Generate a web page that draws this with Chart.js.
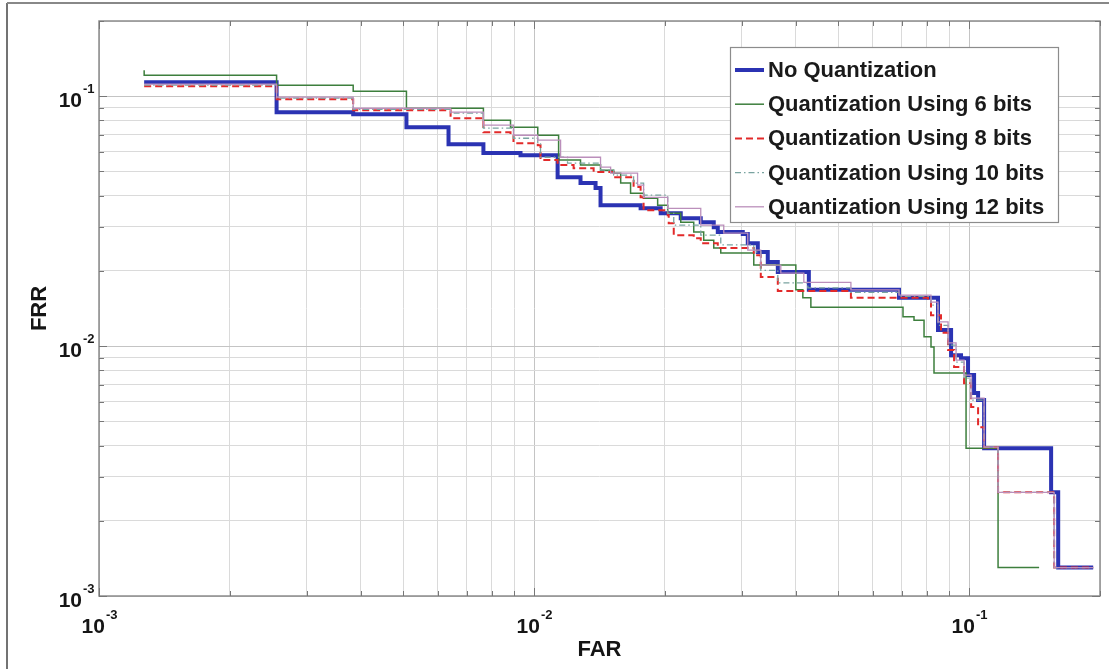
<!DOCTYPE html>
<html lang="en">
<head>
<meta charset="UTF-8">
<title>FAR / FRR</title>
<script src="https://cdn.jsdelivr.net/npm/chart.js"></script>
<style>
  html, body { margin: 0; padding: 0; background: #fff; }
  canvas { display: block; }
</style>
</head>
<body>
<canvas id="rocChart" width="1109" height="669"></canvas>
<script>
// step corners: FAR (x) and FRR (y)
const farNoQ = [0.00127, 0.00256, 0.00384, 0.00509, 0.00636, 0.00765, 0.00931, 0.01133, 0.01279, 0.01385, 0.01422, 0.01758, 0.01955, 0.02174, 0.02417, 0.02589, 0.02645, 0.03019, 0.0310, 0.03269, 0.03446, 0.03634, 0.04283, 0.06902, 0.08485, 0.09093, 0.09585, 0.09947, 0.1027, 0.1049, 0.1083, 0.1544, 0.1603, 0.1929];
const frrNoQ = [0.1138, 0.0863, 0.0847, 0.0752, 0.0643, 0.0592, 0.0581, 0.0474, 0.0449, 0.0429, 0.0366, 0.0356, 0.0340, 0.0325, 0.0313, 0.0299, 0.0286, 0.0281, 0.0258, 0.0238, 0.0217, 0.0198, 0.0168, 0.0156, 0.0116, 0.0092, 0.00895, 0.00766, 0.00649, 0.00608, 0.0039, 0.0026, 0.0013, 0.0013];

const far6 = [0.00127, 0.00127, 0.00256, 0.00384, 0.00509, 0.00765, 0.00883, 0.0102, 0.01139, 0.01279, 0.01422, 0.01524, 0.01582, 0.01667, 0.01786, 0.01924, 0.02029, 0.02174, 0.02329, 0.02455, 0.02589, 0.02687, 0.0320, 0.03998, 0.04149, 0.04329, 0.0705, 0.07473, 0.0788, 0.08176, 0.08307, 0.09843, 0.1166, 0.1449];
const frr6 = [0.127, 0.1213, 0.1107, 0.1047, 0.0895, 0.0802, 0.0752, 0.0698, 0.0555, 0.0530, 0.0506, 0.0492, 0.0449, 0.0409, 0.0391, 0.0366, 0.0340, 0.0313, 0.0286, 0.0265, 0.0247, 0.0236, 0.0211, 0.0168, 0.0156, 0.0143, 0.0131, 0.0127, 0.0109, 0.00991, 0.0078, 0.0039, 0.0013, 0.0013];

const far8 = [0.00127, 0.00256, 0.00384, 0.00643, 0.00765, 0.00883, 0.00897, 0.0102, 0.01035, 0.01133, 0.01233, 0.01371, 0.01524, 0.01694, 0.01758, 0.01786, 0.02029, 0.0204, 0.02095, 0.02329, 0.02417, 0.02645, 0.0320, 0.03321, 0.03634, 0.05351, 0.08047, 0.08176, 0.08621, 0.08949, 0.09238, 0.09739, 0.1011, 0.1049, 0.1083, 0.1166, 0.1569, 0.1929];
const frr8 = [0.1096, 0.0973, 0.0879, 0.0817, 0.0718, 0.0698, 0.0649, 0.0637, 0.0555, 0.0530, 0.0515, 0.0497, 0.0474, 0.0433, 0.0394, 0.0350, 0.0334, 0.0310, 0.0278, 0.0270, 0.0258, 0.0247, 0.0231, 0.0189, 0.0166, 0.0156, 0.0153, 0.0133, 0.0113, 0.00964, 0.00824, 0.00711, 0.0057, 0.00474, 0.00394, 0.0026, 0.0013, 0.0013];

const far10 = [0.00127, 0.00256, 0.00384, 0.00643, 0.00765, 0.00897, 0.0102, 0.01035, 0.01194, 0.01422, 0.01524, 0.01694, 0.01786, 0.02029, 0.02095, 0.02417, 0.02687, 0.0320, 0.03321, 0.03634, 0.0426, 0.05351, 0.06902, 0.08176, 0.08485, 0.08949, 0.09336, 0.09739, 0.1011, 0.1083, 0.1166, 0.1569, 0.1929];
const frr10 = [0.1107, 0.0982, 0.0887, 0.0855, 0.0745, 0.0679, 0.0649, 0.0570, 0.0540, 0.0506, 0.0483, 0.0449, 0.0402, 0.0340, 0.0305, 0.0278, 0.0254, 0.0238, 0.0201, 0.0179, 0.0171, 0.0164, 0.0158, 0.0146, 0.0121, 0.0101, 0.00863, 0.00745, 0.00608, 0.00394, 0.0026, 0.0013, 0.0013];

const far12 = [0.00127, 0.00256, 0.00384, 0.00643, 0.00765, 0.00897, 0.0102, 0.01151, 0.01422, 0.0150, 0.0173, 0.01786, 0.02029, 0.02417, 0.0273, 0.0310, 0.03321, 0.03692, 0.04171, 0.05351, 0.06902, 0.08176, 0.08485, 0.08949, 0.09336, 0.09739, 0.1011, 0.1083, 0.1166, 0.1569, 0.1929];
const frr12 = [0.1117, 0.0991, 0.0895, 0.0863, 0.0766, 0.0698, 0.0667, 0.0570, 0.0520, 0.0492, 0.0441, 0.0394, 0.0356, 0.0305, 0.0283, 0.0242, 0.0211, 0.0196, 0.0180, 0.0168, 0.0160, 0.0150, 0.0125, 0.0103, 0.00879, 0.00766, 0.00619, 0.00394, 0.0026, 0.0013, 0.0013];

const seriesNames = ['No Quantization', 'Quantization Using 6 bits', 'Quantization Using 8 bits', 'Quantization Using 10 bits', 'Quantization Using 12 bits'];
const decades = [1e-3, 1e-2, 1e-1];
const decadeExp = ['-3', '-2', '-1'];
const axisMin = 1e-3, axisMax = 0.2;

const FONT = "'Liberation Sans', Arial, Helvetica, sans-serif";

// 1..9 x each decade, up to the axis max
const gridValues = [];
decades.forEach(d => {
    for (let m = 1; m <= 9; m++) {
        const v = +(m * d).toPrecision(6);
        if (v <= axisMax + 1e-9) gridValues.push(v);
    }
});

function isDecade(v) {
    return decades.some(d => Math.abs(v / d - 1) < 1e-6);
}

function pairs(xs, ys) {
    return xs.map((x, i) => ({ x: x, y: ys[i] }));
}

const styles = [
    { color: '#2b33b3', width: 4, dash: [] },
    { color: '#3d7f3d', width: 1.5, dash: [] },
    { color: '#e22a2a', width: 2, dash: [7, 4] },
    { color: '#79a3a0', width: 1.3, dash: [6, 3, 1.5, 3] },
    { color: '#bb8fbb', width: 1.3, dash: [] }
];
const allData = [pairs(farNoQ, frrNoQ), pairs(far6, frr6), pairs(far8, frr8), pairs(far10, frr10), pairs(far12, frr12)];

const datasets = allData.map((d, i) => ({
    label: seriesNames[i],
    data: d,
    borderColor: styles[i].color,
    borderWidth: styles[i].width,
    borderDash: styles[i].dash,
    stepped: 'before',
    pointRadius: 0,
    fill: false,
    tension: 0,
    order: 5 - i // first series ends up underneath, like MATLAB's plot order
}));

function drawPower(ctx, exp, x, yBase, align) {
    ctx.font = 'bold 21px ' + FONT;
    const wBase = ctx.measureText('10').width;
    ctx.font = 'bold 13px ' + FONT;
    const wExp = ctx.measureText(exp).width;
    let x0;
    if (align === 'right') x0 = x - wBase;
    else x0 = x - (wBase + wExp) / 2;
    ctx.textAlign = 'left';
    ctx.textBaseline = 'alphabetic';
    ctx.font = 'bold 21px ' + FONT;
    ctx.fillText('10', x0, yBase);
    ctx.font = 'bold 13px ' + FONT;
    ctx.fillText(exp, x0 + wBase + 1, yBase - 14);
}

const axesDecor = {
    id: 'axesDecor',
    beforeDraw(chart) {
        const ctx = chart.ctx;
        ctx.save();
        ctx.fillStyle = '#fff';
        ctx.fillRect(0, 0, chart.width, chart.height);
        ctx.strokeStyle = '#444';
        ctx.lineWidth = 1.5;
        ctx.beginPath();
        ctx.moveTo(7, chart.height);
        ctx.lineTo(7, 3);
        ctx.stroke();
        ctx.strokeStyle = '#888';
        ctx.lineWidth = 2;
        ctx.beginPath();
        ctx.moveTo(7, 3);
        ctx.lineTo(chart.width, 3);
        ctx.stroke();
        ctx.restore();
    },
    afterDatasetsDraw(chart) {
        const ctx = chart.ctx;
        const a = chart.chartArea;
        const xs = chart.scales.x, ys = chart.scales.y;
        ctx.save();
        // axes box
        ctx.strokeStyle = '#8c8c8c';
        ctx.lineWidth = 1.5;
        ctx.strokeRect(a.left, a.top, a.right - a.left, a.bottom - a.top);
        // inward ticks on all four sides
        ctx.strokeStyle = '#777';
        ctx.lineWidth = 1;
        ctx.beginPath();
        gridValues.forEach(v => {
            const len = isDecade(v) ? 8 : 5;
            const px = Math.round(xs.getPixelForValue(v)) + 0.5;
            ctx.moveTo(px, a.bottom); ctx.lineTo(px, a.bottom - len);
            ctx.moveTo(px, a.top); ctx.lineTo(px, a.top + len);
            const py = Math.round(ys.getPixelForValue(v)) + 0.5;
            ctx.moveTo(a.left, py); ctx.lineTo(a.left + len, py);
            ctx.moveTo(a.right, py); ctx.lineTo(a.right - len, py);
        });
        ctx.stroke();
        // tick labels 10^n
        ctx.fillStyle = '#151515';
        decades.forEach((d, i) => {
            const py = ys.getPixelForValue(d);
            drawPower(ctx, decadeExp[i], a.left - 17, py + 11, 'right');
            const px = xs.getPixelForValue(d);
            drawPower(ctx, decadeExp[i], px, a.bottom + 37, 'center');
        });
        // axis titles
        ctx.font = 'bold 22px ' + FONT;
        ctx.textAlign = 'center';
        ctx.textBaseline = 'middle';
        ctx.fillText('FAR', (a.left + a.right) / 2, a.bottom + 54);
        ctx.save();
        ctx.translate(40, (a.top + a.bottom) / 2);
        ctx.rotate(-Math.PI / 2);
        ctx.fillText('FRR', 0, 0);
        ctx.restore();
        ctx.restore();
    },
    afterDraw(chart) {
        const ctx = chart.ctx;
        const a = chart.chartArea;
        const bx = a.right - 370, by = a.top + 26, bw = 328, bh = 175;
        ctx.save();
        ctx.fillStyle = '#fff';
        ctx.fillRect(bx, by, bw, bh);
        ctx.strokeStyle = '#8c8c8c';
        ctx.lineWidth = 1.2;
        ctx.strokeRect(bx + 0.5, by + 0.5, bw, bh);
        ctx.font = 'bold 22px ' + FONT;
        ctx.textAlign = 'left';
        ctx.textBaseline = 'middle';
        chart.data.datasets.forEach((ds, i) => {
            const ry = by + 23 + i * 34.2;
            ctx.strokeStyle = ds.borderColor;
            ctx.lineWidth = ds.borderWidth;
            ctx.setLineDash(ds.borderDash || []);
            ctx.beginPath();
            ctx.moveTo(bx + 5, ry);
            ctx.lineTo(bx + 34, ry);
            ctx.stroke();
            ctx.setLineDash([]);
            ctx.fillStyle = '#1a1a1a';
            ctx.fillText(ds.label, bx + 38, ry + 1);
        });
        ctx.restore();
    }
};

const gridColor = (c) => (c.tick && isDecade(c.tick.value)) ? '#c4c4c4' : '#dadada';

new Chart(document.getElementById('rocChart'), {
    type: 'line',
    data: { datasets: datasets },
    options: {
        responsive: false,
        animation: false,
        devicePixelRatio: 1,
        layout: { padding: { left: 0, top: 21, right: 9, bottom: 0 } },
        plugins: {
            legend: { display: false },
            tooltip: { enabled: false }
        },
        scales: {
            x: {
                type: 'logarithmic',
                min: axisMin,
                max: axisMax,
                afterBuildTicks: (s) => { s.ticks = gridValues.map(v => ({ value: v })); },
                afterFit: (s) => { s.height = 73; },
                ticks: { display: false },
                grid: { color: gridColor, lineWidth: 1, drawTicks: false },
                border: { display: false }
            },
            y: {
                type: 'logarithmic',
                min: axisMin,
                max: axisMax,
                afterBuildTicks: (s) => { s.ticks = gridValues.map(v => ({ value: v })); },
                afterFit: (s) => { s.width = 99; },
                ticks: { display: false },
                grid: { color: gridColor, lineWidth: 1, drawTicks: false },
                border: { display: false }
            }
        }
    },
    plugins: [axesDecor]
});
</script>
</body>
</html>
